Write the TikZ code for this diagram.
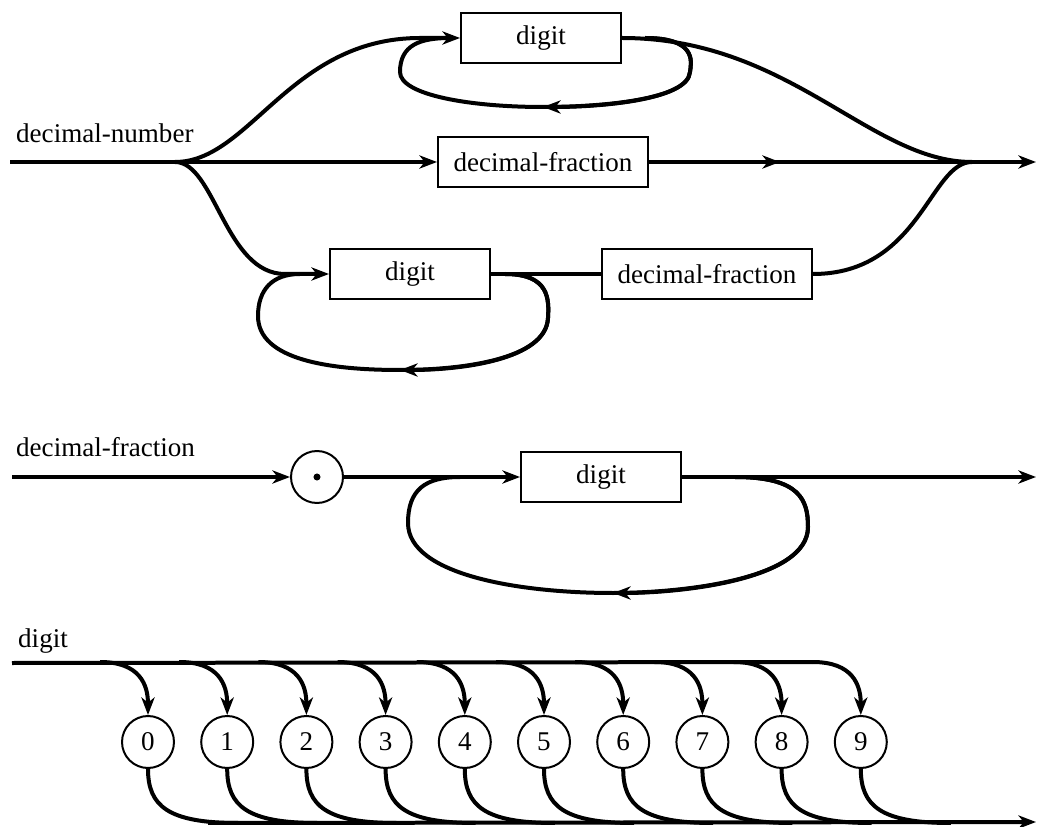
\documentclass[tikz,border=0pt]{standalone}
\usepackage{fontspec}
\setmainfont{Liberation Serif}
\usetikzlibrary{arrows.meta,calc,positioning}

\begin{document}
\begin{tikzpicture}[x=0.02cm,y=-0.02cm,>={Stealth[length=10pt,width=7.5pt,inset=3pt]},
  every node/.style={font=\fontsize{15.4}{18}\selectfont},
  rail/.style={line width=0.08cm},
  box/.style={draw,line width=0.04cm,minimum height=1cm,inner sep=0pt},
  digbox/.style={box,minimum width=3.2cm},
  fracbox/.style={box,minimum width=4.2cm},
  term/.style={draw,circle,line width=0.04cm,minimum size=1.04cm,inner sep=0pt}]
\useasboundingbox (0,0) rectangle (1038,827);
\node[anchor=base west] (lnum) at (10,143) {decimal-number};
\coordinate (b1) at (10,162);
\coordinate (s1) at (175,162);
\coordinate (a1) at (780,162);
\coordinate (j1) at (972,162);
\coordinate (e1) at (1036,162);
\node[digbox] (d1) at (541,38) {digit};
\node[fracbox] (f1) at (543,162) {decimal-fraction};
\node[digbox] (d2) at (410,274) {digit};
\node[fracbox] (f2) at (707,274) {decimal-fraction};
\draw[rail] (b1) -- (s1);
\draw[rail,->] (s1) -- (f1.west);
\draw[rail] (f1.east) -- (j1);
\draw[rail,->] (f1.east) -- (a1);
\draw[rail,->] (j1) -- (e1);
\draw[rail,->] (s1) .. controls (250,162) and (290,38) .. (420,38) -- (d1.west);
\draw[rail] (d1.east) .. controls (790,38) and (870,162) .. (j1);
\draw[rail] (645,38) .. controls (695,38) and (692,60) .. (690,72) .. controls (688,100) and (600,107) .. (543,107)
  .. controls (470,107) and (400,95) .. (400,72) .. controls (400,45) and (420,38) .. (450,38);
\draw[rail,->] (645,38) .. controls (695,38) and (692,60) .. (690,72) .. controls (688,100) and (600,107) .. (543,107);
\draw[rail,->] (s1) .. controls (215,162) and (225,274) .. (285,274) -- (d2.west);
\draw[rail] (d2.east) -- (f2.west);
\draw[rail] (f2.east) .. controls (920,274) and (930,162) .. (j1);
\draw[rail] (505,274) .. controls (550,274) and (549,300) .. (548,318) .. controls (546,360) and (460,370) .. (400,370)
  .. controls (330,370) and (258,360) .. (258,316) .. controls (258,290) and (272,274) .. (300,274);
\draw[rail,->] (505,274) .. controls (550,274) and (549,300) .. (548,318) .. controls (546,360) and (460,370) .. (400,370);

\node[anchor=base west] (lfrac) at (10,457) {decimal-fraction};
\coordinate (b2) at (12,477);
\coordinate (e2) at (1036,477);
\node[term] (pt) at (317,477) {};
\fill (pt) circle (2pt);
\node[digbox] (d3) at (601,477) {digit};
\draw[rail,->] (b2) -- (pt.west);
\draw[rail,->] (pt.east) -- (d3.west);
\draw[rail,->] (d3.east) -- (e2);
\draw[rail] (735,477) .. controls (800,477) and (808,500) .. (808,527) .. controls (808,580) and (680,593) .. (613,593)
  .. controls (520,593) and (408,575) .. (408,523) .. controls (408,490) and (425,477) .. (460,477);
\draw[rail,->] (735,477) .. controls (800,477) and (808,500) .. (808,527) .. controls (808,580) and (680,593) .. (613,593);

\node[anchor=base west] (ldig) at (12,647) {digit};
\foreach \i in {0,...,9}{
  \node[term] (n\i) at (148+79.2*\i,742) {\i};
  \draw[rail,->] ($(n\i.north)+(-48,-53)$) .. controls +(40,0) and +(0,-30) .. (n\i.north);
  \draw[rail] (n\i.south) .. controls +(0,37) and +(-70,0) .. ($(n\i.south)+(90,54)$);
}
\coordinate (b3) at (12,663);
\coordinate (t3) at ($(n9.north)+(-48,-53)$);
\coordinate (b4) at ($(n0.south)+(60,54)$);
\coordinate (e3) at (1036,822);
\draw[rail] (b3) -- (t3);
\draw[rail,->] (b4) -- (e3);
\end{tikzpicture}
\end{document}
